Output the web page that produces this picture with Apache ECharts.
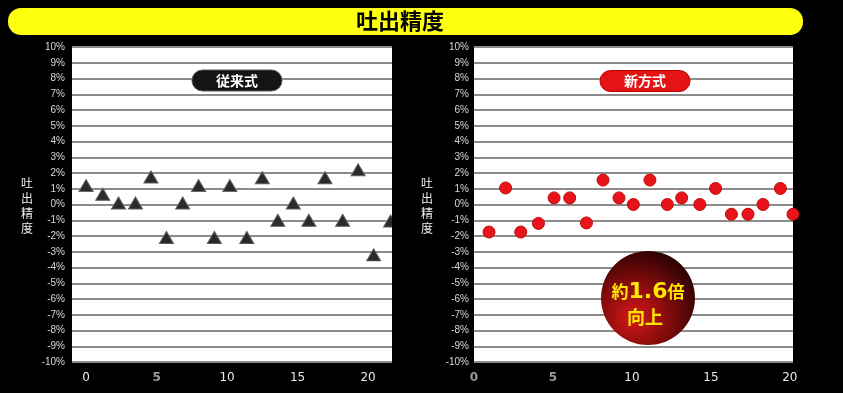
<!DOCTYPE html>
<html>
<head>
<meta charset="utf-8">
<script src="https://cdn.jsdelivr.net/npm/echarts@6/dist/echarts.min.js"></script>
<style>
html,body{margin:0;padding:0;background:#000;}
#c{width:843px;height:393px;}
</style>
</head>
<body>
<div id="c"></div>
<script>
// ---- data ----
var titleText = '吐出精度';
var axisNameText = '吐出精度';
var leftLabel = '従来式';
var rightLabel = '新方式';
var xTicks = [0, 5, 10, 15, 20];
var conventionalX = [0, 1.18, 2.3, 3.5, 4.6, 5.7, 6.85, 7.98, 9.1, 10.2, 11.4, 12.5, 13.6, 14.7, 15.8, 16.95, 18.2, 19.3, 20.4, 21.6];
var conventionalY = [1.2, 0.65, 0.1, 0.1, 1.75, -2.1, 0.1, 1.2, -2.1, 1.2, -2.1, 1.7, -1.0, 0.1, -1.0, 1.7, -1.0, 2.2, -3.2, -1.05];
var newX = [0.95, 2.0, 2.96, 4.08, 5.07, 6.06, 7.12, 8.17, 9.18, 10.09, 11.14, 12.24, 13.15, 14.3, 15.3, 16.3, 17.35, 18.3, 19.4, 20.2];
var newY = [-1.75, 1.05, -1.75, -1.2, 0.42, 0.42, -1.17, 1.55, 0.42, 0, 1.55, 0, 0.42, 0, 1.02, -0.62, -0.62, 0, 1.02, -0.62];
var leftGrayTicks = [5];
var rightGrayTicks = [0, 5];

function pairs(xs, ys) { return xs.map(function (x, i) { return [x, ys[i]]; }); }

var FONT = '"Noto Sans CJK JP", "Noto Sans", sans-serif';

function xAxis(gi, min, max, grayTicks) {
  return {
    type: 'value', gridIndex: gi, min: min, max: max,
    axisLine: { show: false }, axisTick: { show: false }, splitLine: { show: false },
    axisLabel: {
      customValues: xTicks, margin: 10, fontSize: 12, color: '#e8e8e8', fontFamily: 'DejaVu Sans',
      formatter: function (v) { return grayTicks.indexOf(v) >= 0 ? '{g|' + v + '}' : '' + v; },
      rich: { g: { color: '#9a9a9a', fontWeight: 'bold', fontSize: 12, fontFamily: 'DejaVu Sans' } }
    }
  };
}
function yAxis(gi, margin) {
  return {
    type: 'value', gridIndex: gi, min: -10, max: 10, interval: 1,
    axisLine: { show: false }, axisTick: { show: false },
    splitLine: { show: true, lineStyle: { color: '#8c8c8c', width: 2 } },
    axisLabel: { margin: margin, fontSize: 10, color: '#d8d8d8', fontFamily: 'Liberation Sans Narrow, Liberation Sans, sans-serif',
      formatter: function (v) { return v + '%'; } }
  };
}

var chart = echarts.init(document.getElementById('c'));
chart.setOption({
  backgroundColor: '#000',
  animation: false,
  grid: [
    { left: 72, right: 451, top: 47, bottom: 31, show: true, backgroundColor: '#fff', borderWidth: 0 },
    { left: 474, right: 50, top: 47, bottom: 31, show: true, backgroundColor: '#fff', borderWidth: 0 }
  ],
  xAxis: [xAxis(0, -1, 21.7, leftGrayTicks), xAxis(1, 0, 20.2, rightGrayTicks)],
  yAxis: [yAxis(0, 7), yAxis(1, 5)],
  series: [
    { type: 'scatter', xAxisIndex: 0, yAxisIndex: 0, symbol: 'triangle', symbolSize: [14, 12],
      itemStyle: { color: '#2a2a2a', borderColor: '#5a5a5a', borderWidth: 1, opacity: 1 },
      data: pairs(conventionalX, conventionalY) },
    { type: 'scatter', xAxisIndex: 1, yAxisIndex: 1, symbol: 'circle', symbolSize: 12,
      itemStyle: { color: '#e8141b', borderColor: '#c00a0a', borderWidth: 1, opacity: 1 },
      data: pairs(newX, newY) }
  ],
  graphic: [
    // title bar
    { type: 'rect', shape: { x: 8, y: 8, width: 795, height: 27, r: 13 }, style: { fill: '#ffff10' }, z: 100 },
    { type: 'text', x: 400, y: 21, z: 101, style: { text: titleText, fill: '#000', font: 'bold 22px ' + FONT, align: 'center', verticalAlign: 'middle' } },
    // mask right edge of left plot (clips last marker)
    { type: 'rect', shape: { x: 392, y: 150, width: 10, height: 100 }, style: { fill: '#000' }, z: 100 },
    // axis names
    { type: 'text', x: 27, y: 206, z: 101, style: { text: axisNameText.split('').join('\n'), fill: '#eeeeee', font: '12px ' + FONT, lineHeight: 15, align: 'center', verticalAlign: 'middle' } },
    { type: 'text', x: 427, y: 206, z: 101, style: { text: axisNameText.split('').join('\n'), fill: '#eeeeee', font: '12px ' + FONT, lineHeight: 15, align: 'center', verticalAlign: 'middle' } },
    // method badges
    { type: 'rect', shape: { x: 192, y: 70, width: 90, height: 21, r: 10.5 }, style: { fill: '#151515', stroke: '#555', lineWidth: 1 }, z: 100 },
    { type: 'text', x: 237, y: 81, z: 101, style: { text: leftLabel, fill: '#fff', font: 'bold 14px ' + FONT, align: 'center', verticalAlign: 'middle' } },
    { type: 'rect', shape: { x: 600, y: 70.5, width: 90, height: 21, r: 10.5 }, style: { fill: '#e41414', stroke: '#b00', lineWidth: 1 }, z: 100 },
    { type: 'text', x: 645, y: 81, z: 101, style: { text: rightLabel, fill: '#fff', font: 'bold 14px ' + FONT, align: 'center', verticalAlign: 'middle' } },
    // improvement badge
    { type: 'circle', shape: { cx: 648, cy: 298, r: 47 }, z: 100,
      style: { fill: new echarts.graphic.RadialGradient(0.35, 0.7, 0.75, [
        { offset: 0, color: '#d41818' }, { offset: 0.55, color: '#7a0a0a' }, { offset: 1, color: '#2a0202' }]) } },
    { type: 'text', x: 648, y: 292, z: 101, style: {
        text: '{a|約}{b|1.6}{a|倍}', align: 'center', verticalAlign: 'middle',
        rich: { a: { fill: '#ffe800', font: 'bold 17px ' + FONT }, b: { fill: '#ffe800', font: 'bold 22px "DejaVu Sans", sans-serif' } } } },
    { type: 'text', x: 645, y: 317, z: 101, style: { text: '向上', fill: '#ffe800', font: 'bold 18px ' + FONT, align: 'center', verticalAlign: 'middle' } }
  ]
});
</script>
</body>
</html>
